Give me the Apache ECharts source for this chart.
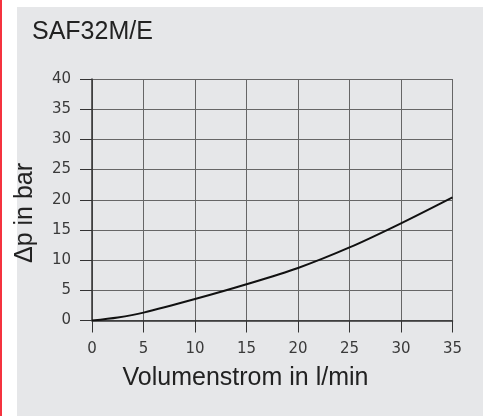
<!DOCTYPE html>
<html>
<head>
<meta charset="utf-8">
<script src="https://cdn.jsdelivr.net/npm/echarts@6/dist/echarts.min.js"></script>
<style>
  html, body { margin: 0; padding: 0; background: #ffffff; }
  #chart { width: 483px; height: 416px; }
</style>
</head>
<body>
<div id="chart"></div>
<script>
// Pressure drop vs. flow rate for SAF32M/E
const flowRates = [0, 2.5, 5, 10, 15, 20, 25, 30, 35];          // l/min
const pressureDrop = [0, 0.5, 1.3, 3.55, 6.0, 8.7, 12.1, 16.1, 20.4]; // bar

const xTicks = [0, 5, 10, 15, 20, 25, 30, 35];
const yTicks = [0, 5, 10, 15, 20, 25, 30, 35, 40];

const titleText = 'SAF32M/E';
const xName = 'Volumenstrom in l/min';
const yName = 'Δp in bar';

const chart = echarts.init(document.getElementById('chart'), null, { renderer: 'canvas' });

const gridColor = '#666';
const axisColor = '#333';
const labelFont = { fontFamily: 'DejaVu Sans', fontSize: 15, color: '#3a3a3a' };

chart.setOption({
  animation: false,
  graphic: [
    { type: 'rect', z: -100, silent: true, shape: { x: 0, y: 0, width: 2, height: 416 }, style: { fill: '#f5333f' } },
    { type: 'rect', z: -100, silent: true, shape: { x: 17, y: 7, width: 466, height: 409 }, style: { fill: '#e6e7e9' } },
    { type: 'text', x: 32, y: 32, style: { text: titleText, font: '25px "Liberation Sans", Arial, sans-serif', fill: '#222', verticalAlign: 'middle', align: 'left' } },
    { type: 'text', x: 245.5, y: 378, style: { text: xName, font: '25px "Liberation Sans", Arial, sans-serif', fill: '#222', verticalAlign: 'middle', align: 'center' } },
    { type: 'text', x: 25, y: 213, rotation: Math.PI / 2, style: { text: yName, font: '25px "Liberation Sans", Arial, sans-serif', fill: '#222', verticalAlign: 'middle', align: 'center' } }
  ],
  grid: { left: 92, top: 79, width: 360.5, height: 241.5, containLabel: false },
  xAxis: {
    type: 'value',
    min: xTicks[0],
    max: xTicks[xTicks.length - 1],
    interval: 5,
    axisLine: { show: true, lineStyle: { color: axisColor, width: 1.5 } },
    axisTick: { show: true, inside: false, length: 12, lineStyle: { color: axisColor, width: 1 } },
    axisLabel: Object.assign({ margin: 21, showMinLabel: true, showMaxLabel: true }, labelFont),
    splitLine: { show: true, lineStyle: { color: gridColor, width: 1 } }
  },
  yAxis: {
    type: 'value',
    min: yTicks[0],
    max: yTicks[yTicks.length - 1],
    interval: 5,
    axisLine: { show: true, lineStyle: { color: axisColor, width: 1.5 } },
    axisTick: { show: true, inside: false, length: 12, lineStyle: { color: axisColor, width: 1 } },
    axisLabel: Object.assign({ margin: 21 }, labelFont),
    splitLine: { show: true, lineStyle: { color: gridColor, width: 1 } }
  },
  series: [{
    type: 'line',
    data: flowRates.map((x, i) => [x, pressureDrop[i]]),
    smooth: 0.3,
    showSymbol: false,
    lineStyle: { color: '#111', width: 2 }
  }]
});
</script>
</body>
</html>
